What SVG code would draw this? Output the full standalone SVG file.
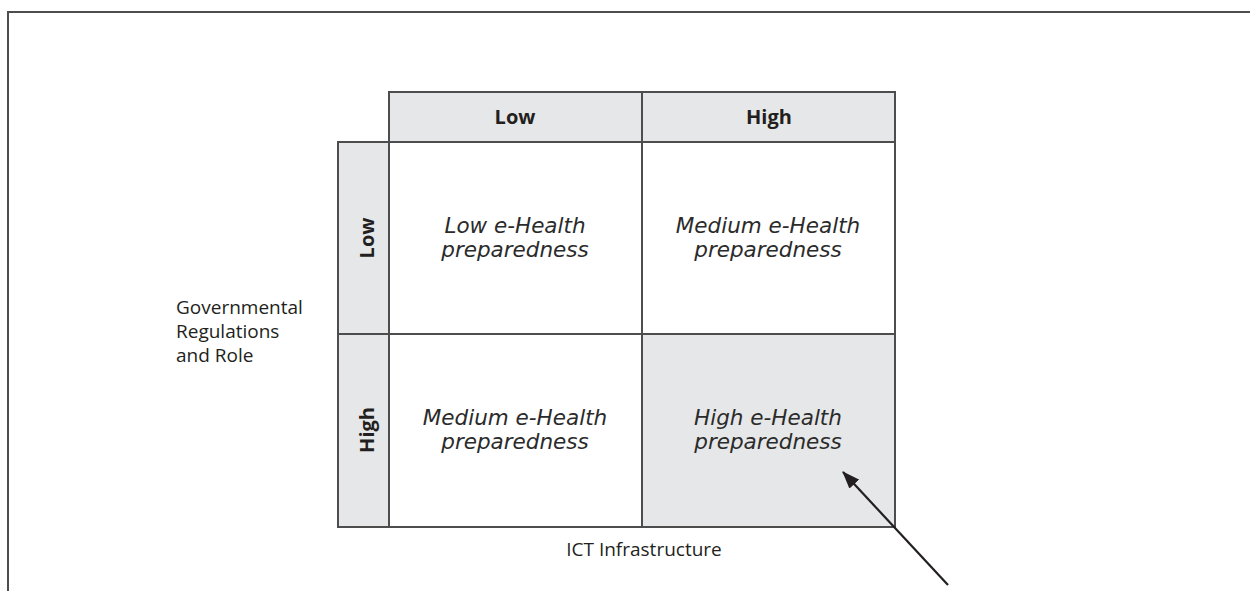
<svg xmlns="http://www.w3.org/2000/svg" width="1250" height="591" viewBox="0 0 1250 591">
<defs>
<style>
.frame{fill:none;stroke:#4d4d4d;stroke-width:2}
.cell{stroke:#4d4d4d;stroke-width:2}
.w{fill:#ffffff}
.g{fill:#e6e7e8}
.hdr{font-family:"Open Sans","Liberation Sans",sans-serif;font-weight:bold;font-size:20px;fill:#231f20;text-anchor:middle}
.it{font-family:"DejaVu Sans","Liberation Sans",sans-serif;font-style:italic;font-size:21.5px;fill:#2b2b2b;text-anchor:middle}
.lbl{font-family:"Open Sans","Liberation Sans",sans-serif;font-size:19px;fill:#231f20}
</style>
<marker id="ah" markerWidth="8" markerHeight="6" refX="7.5" refY="3" orient="auto" markerUnits="strokeWidth">
<path d="M0,0 L8,3 L0,6 Z" fill="#231f20"/>
</marker>
</defs>
<rect width="1250" height="591" fill="#ffffff"/>
<path class="frame" d="M8,591 V12 H1250"/>
<g id="header-low"><rect class="cell g" x="389" y="92" width="253" height="50"/><text class="hdr" x="515" y="124">Low</text></g>
<g id="header-high"><rect class="cell g" x="642" y="92" width="253" height="50"/><text class="hdr" x="769" y="124">High</text></g>
<g id="row-low"><rect class="cell g" x="338" y="142" width="51" height="192"/><text class="hdr" transform="translate(374,238) rotate(-90)">Low</text></g>
<g id="row-high"><rect class="cell g" x="338" y="334" width="51" height="193"/><text class="hdr" transform="translate(374,430) rotate(-90)">High</text></g>
<g id="cell-ll"><rect class="cell w" x="389" y="142" width="253" height="192"/><text class="it" x="515" y="233">Low e-Health</text><text class="it" x="515" y="257">preparedness</text></g>
<g id="cell-lh"><rect class="cell w" x="642" y="142" width="253" height="192"/><text class="it" x="768" y="233">Medium e-Health</text><text class="it" x="768" y="257">preparedness</text></g>
<g id="cell-hl"><rect class="cell w" x="389" y="334" width="253" height="193"/><text class="it" x="515" y="425">Medium e-Health</text><text class="it" x="515" y="449">preparedness</text></g>
<g id="cell-hh"><rect class="cell g" x="642" y="334" width="253" height="193"/><text class="it" x="768" y="425">High e-Health</text><text class="it" x="768" y="449">preparedness</text></g>
<g id="y-label"><text class="lbl" x="176" y="314">Governmental</text><text class="lbl" x="176" y="338">Regulations</text><text class="lbl" x="176" y="362">and Role</text></g>
<g id="x-label"><text class="lbl" x="644" y="556" text-anchor="middle">ICT Infrastructure</text></g>
<g id="connectors"><line x1="948" y1="585" x2="843" y2="472" stroke="#231f20" stroke-width="2.2" marker-end="url(#ah)"/></g>
</svg>
